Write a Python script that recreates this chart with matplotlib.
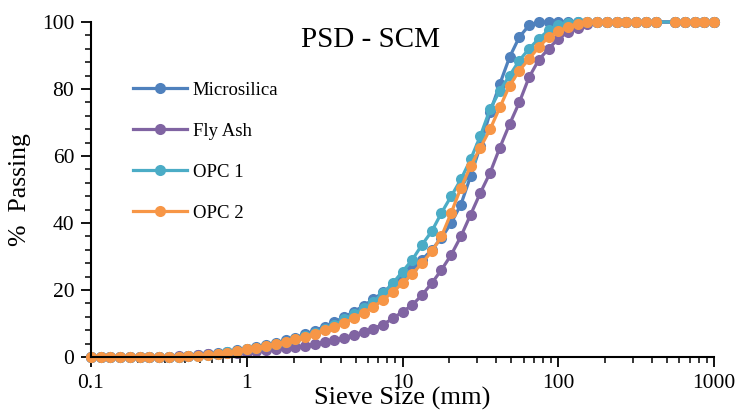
import numpy as np
import matplotlib
matplotlib.use("Agg")
import matplotlib.pyplot as plt
from matplotlib.ticker import MultipleLocator, LogLocator, NullFormatter, FixedLocator, FixedFormatter

# sieve sizes (mm), 16 per decade
sizes = [0.1, 0.1155, 0.1334, 0.154, 0.1778, 0.2054, 0.2371, 0.2738, 0.3162, 0.3652,
         0.4217, 0.487, 0.5623, 0.6494, 0.7499, 0.866, 1.0, 1.155, 1.334, 1.54,
         1.778, 2.054, 2.371, 2.738, 3.162, 3.652, 4.217, 4.87, 5.623, 6.494,
         7.499, 8.66, 10.0, 11.55, 13.34, 15.4, 17.78, 20.54, 23.71, 27.38,
         31.62, 36.52, 42.17, 48.7, 56.23, 64.94, 74.99, 86.6, 100.0, 115.5,
         133.4, 154.0, 177.8, 205.4, 237.1, 273.8, 316.2, 365.2, 421.7, 487.0,
         562.3, 649.4, 749.9, 866.0, 1000.0]

# None = empty cell in the sheet
microsilica = [0, 0, 0, 0, 0, 0, 0, 0, 0, 0.1,
               0.3, 0.5, 0.8, 1.1, 1.5, 2.0, 2.5, 3.0, 3.6, 4.2,
               5.0, 5.8, 6.8, 7.9, 9.1, 10.4, 11.9, 13.5, 15.3, 17.2,
               19.3, 21.6, 24.0, 26.5, 29.0, 32.0, 35.5, 40.0, 45.5, 54.0,
               63.0, 73.0, 81.5, 89.5, 95.5, 99.0, 100, 100, 100, 100,
               100, 100, 100, 100, 100, 100, 100, 100, 100, None,
               100, 100, 100, 100, 100]

fly_ash = [0, 0, 0, 0, 0, 0, 0, 0, 0, 0.2,
           0.4, 0.6, 0.8, 1.0, 1.1, 1.3, 1.5, 1.7, 2.0, 2.3,
           2.6, 3.0, 3.4, 3.9, 4.5, 5.1, 5.8, 6.6, 7.5, 8.5,
           9.7, 11.5, 13.5, 15.5, 18.5, 22.0, 26.0, 30.5, 36.0, 42.5,
           49.0, 55.0, 62.5, 69.5, 76.0, 83.5, 88.7, 92.0, 95.0, 97.0,
           98.3, 99.3, 100, 100, 100, 100, 100, 100, 100, None,
           100, 100, 100, 100, 100]

opc1 = [0, 0, 0, 0, 0, 0, 0, 0, 0, 0,
        0.2, 0.4, 0.7, 1.0, 1.4, 1.8, 2.3, 2.8, 3.3, 3.9,
        4.6, 5.4, 6.3, 7.3, 8.4, 9.6, 11.2, 12.8, 14.5, 16.5,
        19.0, 22.0, 25.5, 29.0, 33.5, 37.5, 43.0, 48.0, 53.0, 59.0,
        66.0, 74.0, 79.5, 84.0, 88.5, 92.0, 95.0, 97.5, 99.0, 99.7,
        100, 100, 100, 100, 100, 100, 100, 100, 100, None,
        100, 100, 100, 100, 100]

opc2 = [0, 0, 0, 0, 0, 0, 0, 0, 0, 0.1,
        0.2, 0.4, 0.6, 0.9, 1.2, 1.7, 2.3, 2.8, 3.3, 3.9,
        4.5, 5.3, 6.1, 7.0, 8.0, 9.0, 10.2, 11.6, 13.2, 15.0,
        17.0, 19.4, 22.0, 24.8, 28.0, 31.5, 36.0, 43.0, 50.5, 57.0,
        62.5, 68.0, 74.5, 81.0, 85.5, 89.0, 92.5, 95.5, 97.2, 98.6,
        99.5, 100, 100, 100, 100, 100, 100, 100, 100, None,
        100, 100, 100, 100, 100]

series = [("Microsilica", microsilica, "#4F81BD", True),
          ("Fly Ash", fly_ash, "#8064A2", True),
          ("OPC 1", opc1, "#4BACC6", True),
          ("OPC 2", opc2, "#F79646", False)]

plt.rcParams['font.family'] = ['Liberation Serif', 'DejaVu Serif']

fig = plt.figure(figsize=(7.39, 4.11), dpi=100)
ax = fig.add_axes([91/739, 54/411, 623/739, 335/411])

for name, vals, col, bridge in series:
    if bridge:
        # empty cells are skipped and the line goes on through them
        xs = [s for s, v in zip(sizes, vals) if v is not None]
        ys = [v for v in vals if v is not None]
    else:
        xs = sizes
        ys = [np.nan if v is None else v for v in vals]
    ax.plot(xs, ys, color=col, lw=2.3, marker='o', ms=8,
            markeredgewidth=0, label=name, clip_on=False)

ax.set_xscale('log')
ax.set_xlim(0.1, 1000)
ax.set_ylim(0, 100)
ax.yaxis.set_major_locator(MultipleLocator(20))
ax.yaxis.set_minor_locator(MultipleLocator(4))
ax.xaxis.set_major_locator(FixedLocator([0.1, 1, 10, 100, 1000]))
ax.xaxis.set_major_formatter(FixedFormatter(['0.1', '1', '10', '100', '1000']))
ax.xaxis.set_minor_locator(LogLocator(base=10, subs=np.arange(2, 10)))
ax.xaxis.set_minor_formatter(NullFormatter())

for s in ['top', 'right']:
    ax.spines[s].set_visible(False)
for s in ['left', 'bottom']:
    ax.spines[s].set_linewidth(1.5)

ax.tick_params(axis='both', which='major', direction='out', length=7, width=1.3,
               labelsize=15.5, pad=5)
ax.tick_params(axis='both', which='minor', direction='out', length=4, width=1.1)

ax.set_ylabel('%  Passing', fontsize=18.5, labelpad=8)
ax.set_xlabel('Sieve Size (mm)', fontsize=19, labelpad=-4.5)
ax.text(0.448, 0.946, 'PSD - SCM', transform=ax.transAxes, fontsize=21,
        ha='center', va='center')

ax.legend(loc='upper left', bbox_to_anchor=(0.067, 0.822), frameon=False,
          fontsize=13.5, handlelength=2.9, handletextpad=0.3, labelspacing=1.27,
          borderpad=0, borderaxespad=0)

fig.savefig('out.png', dpi=100)
